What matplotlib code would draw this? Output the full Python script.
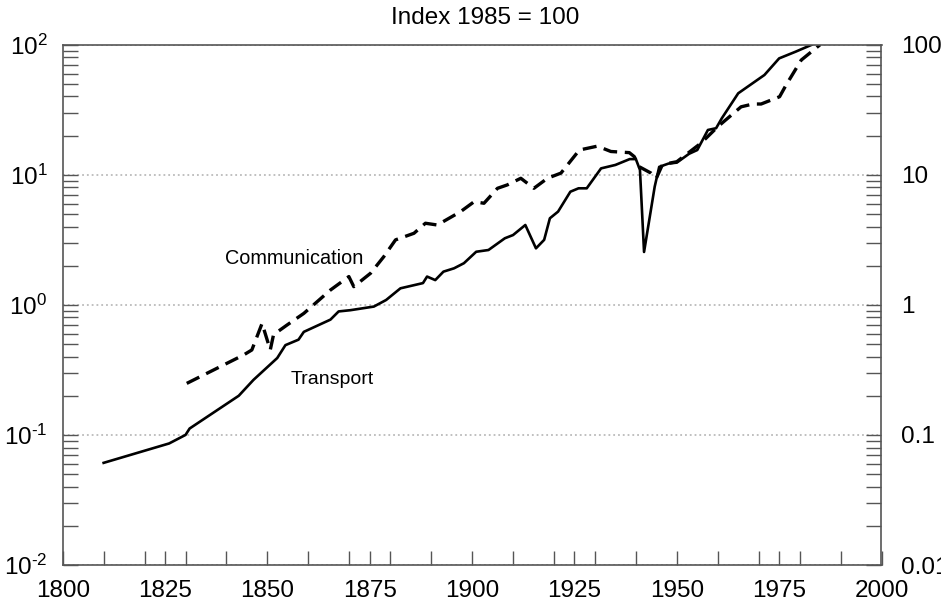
import matplotlib
matplotlib.use("Agg")
import matplotlib.pyplot as plt
from matplotlib.ticker import FixedLocator, FixedFormatter, LogLocator, NullFormatter

plt.rcParams['font.family'] = ['Liberation Sans', 'DejaVu Sans']
plt.rcParams['mathtext.fontset'] = 'custom'
plt.rcParams['mathtext.rm'] = 'Liberation Sans'
plt.rcParams['mathtext.it'] = 'Liberation Sans:italic'
plt.rcParams['mathtext.bf'] = 'Liberation Sans:bold'

# ---- data ----
transport_years = [1810, 1826, 1830, 1831, 1843, 1846.6, 1852.4, 1854.4, 1857.6, 1858.9,
                   1865.4, 1867.4, 1870.3, 1876, 1879, 1882.5, 1888, 1889, 1891, 1893,
                   1895.6, 1898, 1901, 1904, 1908, 1910, 1913, 1915.6, 1917.6, 1919,
                   1921, 1924, 1926, 1928, 1931.5, 1935, 1938.5, 1940, 1941, 1942,
                   1944.6, 1945.7, 1948, 1950, 1953, 1955, 1957.6, 1959.6, 1961, 1965,
                   1971.4, 1975, 1979, 1983]
transport_values = [0.061, 0.086, 0.100, 0.112, 0.20, 0.265, 0.39, 0.49, 0.54, 0.62,
                    0.77, 0.89, 0.91, 0.97, 1.09, 1.34, 1.47, 1.65, 1.55, 1.80,
                    1.91, 2.09, 2.56, 2.64, 3.25, 3.44, 4.11, 2.72, 3.16, 4.63,
                    5.21, 7.41, 7.87, 7.87, 11.2, 11.9, 13.2, 13.2, 10.9, 2.55,
                    8.1, 11.5, 12.2, 12.4, 14.5, 15.5, 22.1, 22.8, 27.2, 42.3,
                    58.5, 78.5, 88.3, 100]

comm_years = [1830.3, 1844.2, 1846.2, 1848.7, 1850.7, 1851.5, 1854.8, 1858.9, 1865.4, 1869.9,
              1871.1, 1875.2, 1878.4, 1881.3, 1885.8, 1888.6, 1891.5, 1897.2, 1900.5, 1902.9,
              1906.2, 1908.6, 1911.9, 1915.1, 1918.4, 1921.7, 1926.2, 1930.6, 1933.9, 1938.4,
              1939.6, 1940.9, 1943.7, 1945, 1946.5, 1950, 1955.9, 1960, 1965.7, 1968.6,
              1970.6, 1975.1, 1976.7, 1980.4, 1985]
comm_values = [0.249, 0.412, 0.45, 0.72, 0.45, 0.59, 0.70, 0.86, 1.30, 1.65,
               1.38, 1.75, 2.34, 3.16, 3.55, 4.24, 4.11, 5.21, 6.21, 6.04,
               7.87, 8.36, 9.40, 7.87, 9.40, 10.3, 15.5, 16.6, 15.1, 14.8,
               13.8, 11.5, 10.3, 9.4, 12.0, 12.6, 17.5, 23.4, 33.3, 35.0,
               35.0, 39.8, 49.0, 76.2, 100]

x_major = [1800, 1825, 1850, 1875, 1900, 1925, 1950, 1975, 2000]
x_minor = [1810, 1820, 1830, 1840, 1860, 1870, 1880, 1890, 1910, 1920, 1930, 1940,
           1960, 1970, 1980, 1990]
y_ticks = [0.01, 0.1, 1, 10, 100]
left_labels = [r'$10^{\text{-2}}$', r'$10^{\text{-1}}$', r'$10^{0}$', r'$10^{1}$', r'$10^{2}$']
right_labels = ['0.01', '0.1', '1', '10', '100']

title = 'Index 1985 = 100'

# ---- figure ----
fig = plt.figure(figsize=(9.41, 6.06), dpi=100)
ax = fig.add_axes([62.7/941, 1-565/606, (881.5-62.7)/941, (565-44.7)/606])

ax.plot(transport_years, transport_values, color='black', lw=1.9, solid_joinstyle='round')
ax.plot(comm_years, comm_values, color='black', lw=2.4, ls=(0, (4.2, 2.3)))

ax.set_yscale('log')
ax.set_xlim(1800, 2000)
ax.set_ylim(0.01, 100)

spine_col = '#555555'
for s in ax.spines.values():
    s.set_color(spine_col)
    s.set_linewidth(1.2)

ax.xaxis.set_major_locator(FixedLocator(x_major))
ax.xaxis.set_minor_locator(FixedLocator(x_minor))
ax.yaxis.set_major_locator(FixedLocator(y_ticks))
ax.yaxis.set_major_formatter(FixedFormatter(left_labels))
ax.yaxis.set_minor_locator(LogLocator(base=10, subs=range(2, 10)))
ax.yaxis.set_minor_formatter(NullFormatter())

ax.tick_params(axis='x', which='both', direction='in', length=10, width=1,
               color=spine_col, labelsize=17.5, pad=11, top=False)
ax.tick_params(axis='y', which='both', direction='in', length=11, width=1,
               color=spine_col, labelsize=17.5, pad=11, right=False)

ax.grid(axis='y', which='major', color='#bbbbbb', ls=':', lw=1.3)

ax2 = ax.twinx()
ax2.set_yscale('log')
ax2.set_ylim(0.01, 100)
ax2.yaxis.set_major_locator(FixedLocator(y_ticks))
ax2.yaxis.set_major_formatter(FixedFormatter(right_labels))
ax2.yaxis.set_minor_locator(LogLocator(base=10, subs=range(2, 10)))
ax2.yaxis.set_minor_formatter(NullFormatter())
ax2.tick_params(axis='y', which='both', direction='in', length=11, width=1,
                color=spine_col, labelsize=17.5, pad=14)
for s in ax2.spines.values():
    s.set_visible(False)

ax.text(1839.7, 2.29, 'Communication', fontsize=14.3, ha='left', va='center')
ax.text(1855.6, 0.265, 'Transport', fontsize=14, ha='left', va='center')

fig.text(485/941, 1-18/606, title, fontsize=17.5, ha='center', va='center')

fig.savefig('out.png', dpi=100, facecolor='white')
